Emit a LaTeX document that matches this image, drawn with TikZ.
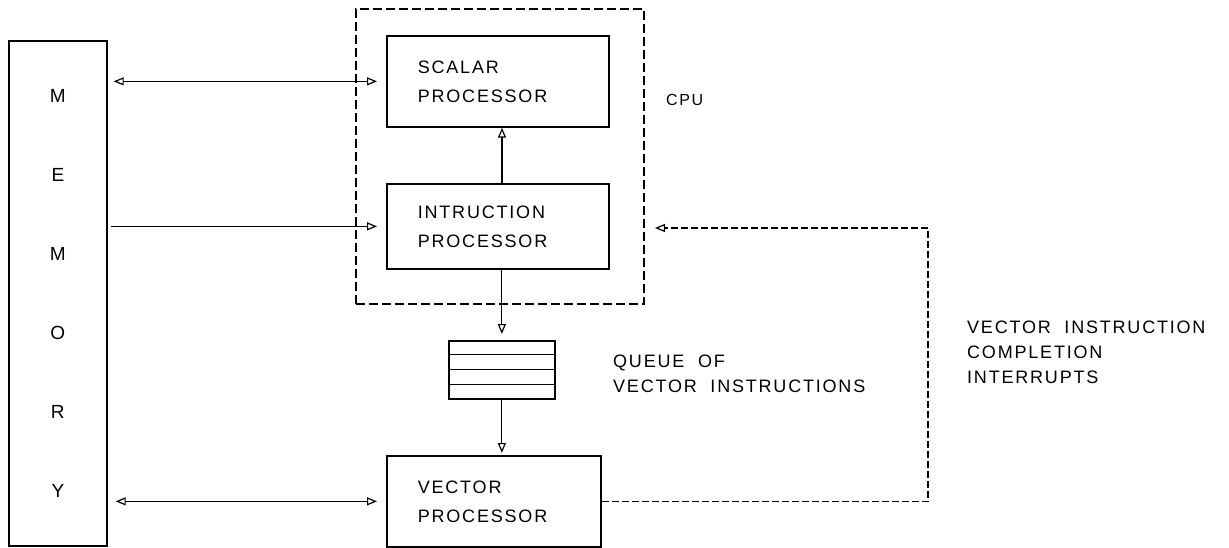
\documentclass[tikz,border=0pt]{standalone}
\usepackage{fontspec}
\newfontfamily\lbl{Liberation Sans}[LetterSpace=10]
\usetikzlibrary{arrows.meta,calc}

\begin{document}
\begin{tikzpicture}[x=1pt,y=-1pt,
  font=\lbl\fontsize{18}{29}\selectfont,
  box/.style={draw,line width=1.7pt,inner sep=0pt},
  txtbox/.style={box,anchor=north west,align=left,inner xsep=31pt,
    text width=160pt},
  cpubox/.style={draw,line width=1.7pt,dash pattern=on 9pt off 4pt,
    anchor=north west,inner sep=0pt},
  link/.style={line width=1.2pt,-{Triangle[open,length=10pt,width=8pt]}},
  duplex/.style={line width=1.2pt,{Triangle[open,length=10pt,width=8pt]}-{Triangle[open,length=10pt,width=8pt]}},
  feedback/.style={line width=1.2pt,dash pattern=on 7pt off 3pt,
    -{Triangle[open,length=10pt,width=8pt]}},
  caption/.style={anchor=west,align=left,inner sep=0pt,
    font=\lbl\fontsize{18}{25}\selectfont}
]
\useasboundingbox (0,0) rectangle (1229,548);

% main memory column
\node[box,anchor=north west,minimum width=98pt,minimum height=505pt,
  align=center,font=\lbl\fontsize{19}{79}\selectfont]
  (memory) at (8,40) {M\\E\\M\\O\\R\\Y};

% central processing unit
\node[cpubox,minimum width=288pt,minimum height=295pt] (cpu) at (355,8) {};
\node[caption,font=\lbl\fontsize{16}{18}\selectfont] (cpulabel) at (666,100) {CPU};

\node[txtbox,minimum height=91pt] (scalar) at (386,35)
  {SCALAR\\PROCESSOR};
\node[txtbox,minimum height=85pt] (instr) at (386,183)
  {INTRUCTION\\PROCESSOR};

% instruction queue
\node[box,anchor=north west,minimum width=106pt,minimum height=58pt]
  (queue) at (448,340) {};
\foreach \f in {0.25,0.5,0.75}
  \draw[line width=1.1pt] ($(queue.north west)!\f!(queue.south west)$)
    -- ($(queue.north east)!\f!(queue.south east)$);
\node[caption] (qtext) at (613,374)
  {QUEUE\ \ OF\\VECTOR\ \ INSTRUCTIONS};

% vector unit
\node[txtbox,minimum height=91pt,text width=152pt] (vector) at (386,455)
  {VECTOR\\PROCESSOR};

% memory traffic
\draw[duplex,shorten <=6pt,shorten >=9pt] (memory.east |- scalar.west) -- (scalar.west);
\draw[link,shorten <=3pt,shorten >=9pt] (memory.east |- instr.west) -- (instr.west);
\draw[duplex,shorten <=8pt,shorten >=9pt] (memory.east |- vector.west) -- (vector.west);

% instruction flow
\draw[link] (instr.north -| 502,0) -- (scalar.south -| 502,0);
\draw[link,shorten >=6pt] (queue.north |- instr.south) -- (queue.north);
\draw[link,shorten >=2pt] (queue.south) -- (queue.south |- vector.north);

% completion interrupts back to the CPU
\coordinate (fbcorner) at (928,228);
\coordinate (fbend) at (655,228);
\draw[feedback] (vector.east) -| (fbcorner) -- (fbend);
\node[caption] (irq) at (967,352)
  {VECTOR\ \ INSTRUCTION\\COMPLETION\\INTERRUPTS};
\end{tikzpicture}
\end{document}
